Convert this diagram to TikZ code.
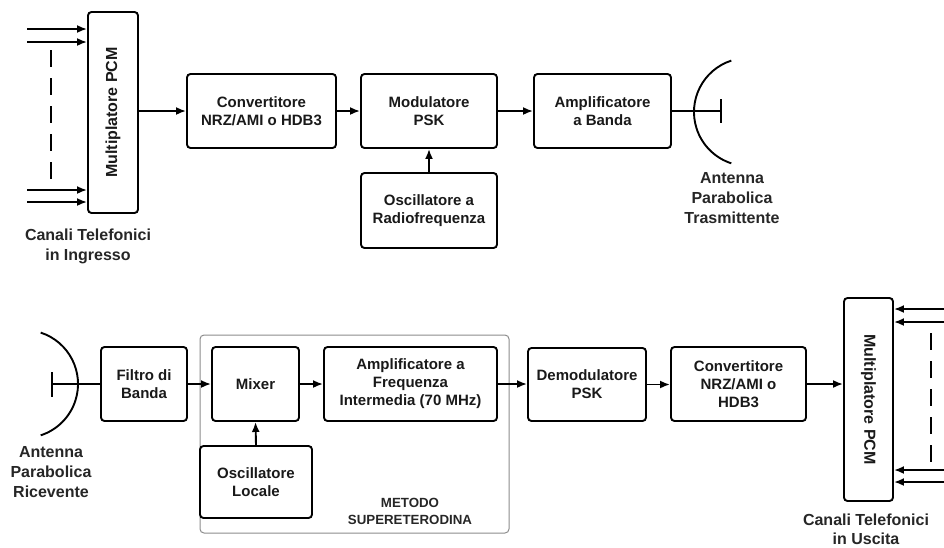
\documentclass[tikz,border=0pt]{standalone}
\usepackage{fontspec}
\setmainfont{Liberation Sans}
\usetikzlibrary{arrows.meta}
\begin{document}
\begin{tikzpicture}[x=1pt,y=-1pt,
  blk/.style={draw, line width=1.9pt, rounded corners=3.5pt, align=center,
    inner sep=0pt, font=\fontsize{15}{18}\selectfont\bfseries, text=black!90},
  tallblk/.style={blk, font=\fontsize{16}{18}\selectfont\bfseries},
  arr/.style={line width=1.9pt, -{Latex[length=10pt,width=8pt]}},
  wire/.style={line width=1.9pt},
  captext/.style={align=center, inner sep=0pt, font=\fontsize{16}{20}\selectfont\bfseries, text=black!85},
  dsh/.style={line width=1.9pt, dash pattern=on 17pt off 11pt},
  grp/.style={draw=black!45, line width=1pt, rounded corners=4pt}]
\useasboundingbox (0,0) rectangle (944,547);

% ---------- transmitter chain ----------
\node[tallblk, minimum width=50pt, minimum height=201pt] (mpcmA) at (113,112.5)
  {\rotatebox{90}{Multiplatore PCM}};
\node[blk, minimum width=149pt, minimum height=74pt] (convA) at (261.5,111)
  {Convertitore\\NRZ/AMI o HDB3};
\node[blk, minimum width=136pt, minimum height=74pt] (modA) at (429,111)
  {Modulatore\\PSK};
\node[blk, minimum width=137pt, minimum height=74pt] (ampA) at (602.5,111)
  {Amplificatore\\a Banda};
\node[blk, minimum width=136pt, minimum height=75pt] (oscA) at (429,210.5)
  {Oscillatore a\\Radiofrequenza};

% input channels
\coordinate (inA1) at (27,29);
\coordinate (inA2) at (27,42);
\coordinate (inA3) at (27,190);
\coordinate (inA4) at (27,202);
\foreach \c in {inA1,inA2,inA3,inA4}
  \draw[arr] (\c) -- (\c -| mpcmA.west);
\coordinate (dA1) at (51,50);
\coordinate (dA2) at (51,180);
\draw[dsh] (dA1) -- (dA2);

\draw[arr] (convA.west -| mpcmA.east) -- (convA.west);
\draw[arr] (convA.east) -- (modA.west);
\draw[arr] (modA.east) -- (ampA.west);
\draw[arr] (oscA.north) -- (modA.south);

% transmitting dish
\coordinate (feedA) at (721,111);
\coordinate (tkA1) at (721,99);
\coordinate (tkA2) at (721,123);
\coordinate (dishA) at (731.3,60.6);
\draw[wire] (ampA.east) -- (feedA);
\draw[wire] (tkA1) -- (tkA2);
\draw[wire] (dishA) arc[start angle=108, end angle=252, radius=54pt];

\node[captext] (capA) at (88,246) {Canali Telefonici\\in Ingresso};
\node[captext] (antA) at (732,198) {Antenna\\Parabolica\\Trasmittente};

% ---------- receiver chain ----------
\draw[grp] (200,335) rectangle (509,533);
\node[inner sep=0pt, align=center, font=\fontsize{13.3}{17.5}\selectfont\bfseries, text=black!85]
  (met) at (410,511.5) {METODO\\SUPERETERODINA};

\node[blk, minimum width=86pt, minimum height=74pt] (filt) at (144,384)
  {Filtro di\\Banda};
\node[blk, minimum width=87pt, minimum height=74pt] (mix) at (255.5,384)
  {Mixer};
\node[blk, minimum width=173pt, minimum height=74pt] (ampIF) at (410.5,384)
  {Amplificatore a\\Frequenza\\Intermedia (70 MHz)};
\node[blk, minimum width=112pt, minimum height=72pt] (oscL) at (256,482)
  {Oscillatore\\Locale};
\node[blk, minimum width=118pt, minimum height=73pt] (demod) at (587,384.5)
  {Demodulatore\\PSK};
\node[blk, minimum width=135pt, minimum height=74pt] (convB) at (738.5,384)
  {Convertitore\\NRZ/AMI o\\HDB3};
\node[tallblk, minimum width=49pt, minimum height=203pt] (mpcmB) at (868.5,399.5)
  {\rotatebox{-90}{Multiplatore PCM}};

% receiving dish
\coordinate (feedB) at (52,384);
\coordinate (tkB1) at (52,372);
\coordinate (tkB2) at (52,397);
\coordinate (dishB) at (40.7,332.6);
\draw[wire] (dishB) arc[start angle=72, end angle=-72, radius=54pt];
\draw[wire] (tkB1) -- (tkB2);
\draw[wire] (feedB) -- (filt.west);

\draw[arr] (filt.east) -- (mix.west);
\draw[arr] (mix.east) -- (ampIF.west);
\draw[arr] (oscL.north) -- (mix.south);
\draw[arr] (ampIF.east) -- (ampIF.east -| demod.west);
\draw[arr] (demod.east) -- (demod.east -| convB.west);
\draw[arr] (convB.east) -- (convB.east -| mpcmB.west);

% output channels
\coordinate (inB1) at (944,309);
\coordinate (inB2) at (944,322);
\coordinate (inB3) at (944,470);
\coordinate (inB4) at (944,482);
\foreach \c in {inB1,inB2,inB3,inB4}
  \draw[arr] (\c) -- (\c -| mpcmB.east);
\coordinate (dB1) at (931,333);
\coordinate (dB2) at (931,462);
\draw[dsh] (dB1) -- (dB2);

\node[captext] (antB) at (51,472) {Antenna\\Parabolica\\Ricevente};
\node[captext, font=\fontsize{16}{19}\selectfont\bfseries] (capB) at (866,529) {Canali Telefonici\\in Uscita};
\end{tikzpicture}
\end{document}
